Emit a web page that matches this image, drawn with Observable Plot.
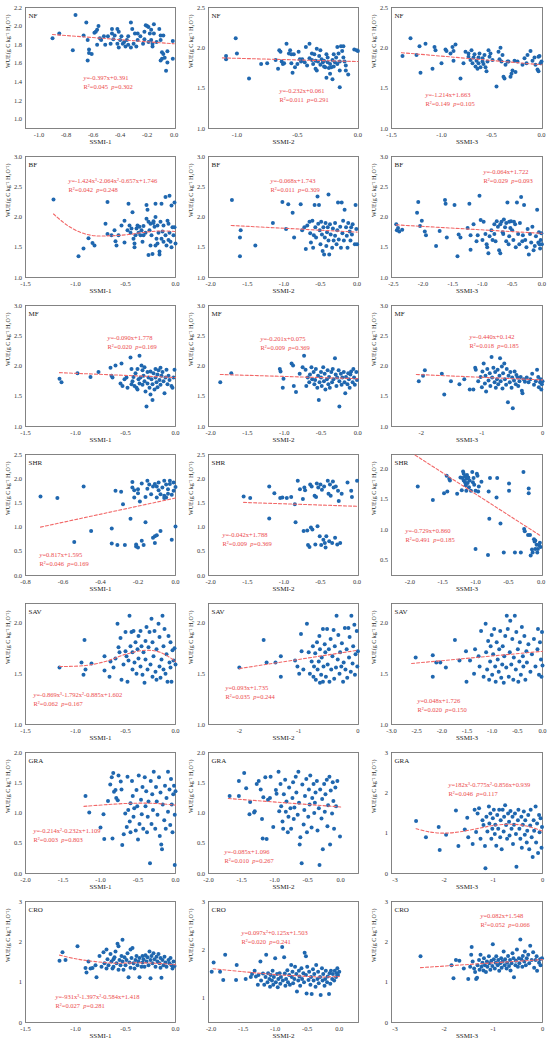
<!DOCTYPE html>
<html><head><meta charset="utf-8">
<script src="https://cdn.jsdelivr.net/npm/d3@7"></script>
<script src="https://cdn.jsdelivr.net/npm/@observablehq/plot@0.6"></script>
<style>
html,body{margin:0;padding:0;background:#fff;overflow:hidden}
#grid{display:grid;grid-template-columns:183px 183px 184px;grid-auto-rows:149px;width:550px}
#grid svg{display:block}
</style></head><body><div id="grid"></div>
<script>
const classes = ["NF","BF","MF","SHR","SAV","GRA","CRO"];
const indices = ["SSMI-1","SSMI-2","SSMI-3"];
const yTitle = "WUE(g C kg\u207B\u00B9 H\u2082O\u207B\u00B9)";
const equations = [
 ["y=-0.397x+0.391","R²=0.045  p=0.302"],
 ["y=-0.232x+0.061","R²=0.011  p=0.291"],
 ["y=-1.214x+1.663","R²=0.149  p=0.105"],
 ["y=-1.424x³-2.064x²-0.657x+1.746","R²=0.042  p=0.248"],
 ["y=-0.068x+1.743","R²=0.011  p=0.309"],
 ["y=-0.064x+1.722","R²=0.029  p=0.093"],
 ["y=-0.090x+1.778","R²=0.020  p=0.169"],
 ["y=-0.201x+0.075","R²=0.009  p=0.369"],
 ["y=-0.440x+0.142","R²=0.018  p=0.185"],
 ["y=0.817x+1.595","R²=0.046  p=0.169"],
 ["y=-0.042x+1.788","R²=0.009  p=0.369"],
 ["y=-0.729x+0.860","R²=0.491  p=0.185"],
 ["y=-0.869x³-1.792x²-0.885x+1.602","R²=0.062  p=0.167"],
 ["y=0.093x+1.735","R²=0.035  p=0.244"],
 ["y=0.048x+1.726","R²=0.020  p=0.150"],
 ["y=-0.214x²-0.232x+1.109","R²=0.003  p=0.803"],
 ["y=-0.085x+1.096","R²=0.010  p=0.267"],
 ["y=182x³-0.775x²-0.856x+0.939","R²=0.046  p=0.117"],
 ["y=-931x³-1.397x²-0.584x+1.418","R²=0.027  p=0.281"],
 ["y=0.097x²+0.125x+1.503","R²=0.020  p=0.241"],
 ["y=0.082x+1.548","R²=0.052  p=0.066"]
];

// tick values
const tA = [-1.0,-0.8,-0.6,-0.4,-0.2,0];
const tB = [-1.0,-0.5,0];
const tC = [-1.5,-1.0,-0.5,0];
const tD = [-2.0,-1.5,-1.0,-0.5,0];
const tE = [-2.5,-2.0,-1.5,-1.0,-0.5,0];
const tF = [-2,-1,0];
const tG = [-0.8,-0.6,-0.4,-0.2,0];
const tH = [-3.0,-2.5,-2.0,-1.5,-1.0,-0.5,0];
const tI = [-3,-2,-1,0];
const yA = [1.0,1.2,1.4,1.6,1.8,2.0,2.2];
const yB = [1.0,1.5,2.0,2.5];
const yC = [1.0,1.5,2.0,2.5,3.0];
const yD = [0,0.5,1.0,1.5,2.0,2.5];
const yE = [0.5,1.0,1.5,2.0];
const yF = [1.0,1.5,2.0];
const yG = [0,0.5,1.0,1.5,2.0];
const yH = [0,1,2,3];
const yI = [1,2,3];

// scatter values [SSMI, WUE]
const nf1 = [[-0.90,1.87],[-0.85,1.92],[-0.73,2.12],[-0.75,1.74],[-0.67,1.90],[-0.65,2.04],[-0.64,1.85],[-0.63,1.75],[-0.63,1.71],[-0.64,1.63],[-0.61,1.70],[-0.59,1.93],[-0.58,1.94],[-0.57,1.96],[-0.56,2.00],[-0.57,1.80],[-0.55,1.87],[-0.54,1.85],[-0.52,1.89],[-0.51,1.80],[-0.49,1.89],[-0.47,1.81],[-0.46,1.97],[-0.46,1.92],[-0.45,1.86],[-0.44,1.90],[-0.42,1.97],[-0.41,1.94],[-0.42,1.81],[-0.41,1.77],[-0.40,1.85],[-0.39,1.89],[-0.38,1.81],[-0.37,1.83],[-0.36,1.78],[-0.35,1.85],[-0.34,1.80],[-0.34,1.89],[-0.32,2.04],[-0.32,1.77],[-0.31,1.97],[-0.30,1.81],[-0.29,1.92],[-0.28,1.78],[-0.27,1.85],[-0.27,1.92],[-0.25,1.89],[-0.23,1.81],[-0.22,1.94],[-0.22,1.86],[-0.21,2.01],[-0.20,2.00],[-0.19,1.83],[-0.19,1.99],[-0.18,1.92],[-0.17,1.85],[-0.17,1.96],[-0.16,1.78],[-0.16,1.81],[-0.15,2.02],[-0.15,1.92],[-0.13,1.83],[-0.11,1.97],[-0.10,1.85],[-0.10,1.90],[-0.09,1.72],[-0.08,1.70],[-0.08,1.90],[-0.09,1.65],[-0.07,1.66],[-0.06,1.52],[-0.05,1.73],[-0.05,1.61],[-0.01,1.65],[-0.01,1.84],[-0.10,1.63]];
const nf2 = [[-1.09,1.90],[-1.09,1.86],[-1.01,2.12],[-1.00,1.93],[-0.90,1.62],[-0.80,1.80],[-0.75,1.81],[-0.68,1.85],[-0.66,1.74],[-0.65,1.97],[-0.64,1.95],[-0.63,1.83],[-0.62,1.80],[-0.61,1.81],[-0.59,2.05],[-0.57,1.93],[-0.56,1.97],[-0.55,1.92],[-0.54,1.69],[-0.55,1.81],[-0.52,1.76],[-0.53,1.92],[-0.50,1.80],[-0.49,1.95],[-0.48,1.86],[-0.47,1.83],[-0.46,1.86],[-0.44,1.82],[-0.43,2.01],[-0.42,1.78],[-0.40,2.05],[-0.40,1.87],[-0.38,1.93],[-0.38,1.85],[-0.37,1.80],[-0.36,1.92],[-0.35,1.84],[-0.34,1.99],[-0.34,1.72],[-0.33,1.83],[-0.32,1.90],[-0.31,1.97],[-0.31,1.79],[-0.30,1.86],[-0.29,1.82],[-0.28,1.77],[-0.28,1.84],[-0.27,1.76],[-0.26,1.63],[-0.26,1.92],[-0.25,1.82],[-0.25,1.88],[-0.24,1.75],[-0.23,1.68],[-0.23,1.80],[-0.22,1.76],[-0.21,1.85],[-0.21,1.61],[-0.20,1.92],[-0.20,1.77],[-0.19,1.82],[-0.18,1.88],[-0.17,1.80],[-0.17,2.01],[-0.16,1.93],[-0.15,1.51],[-0.15,1.72],[-0.15,1.83],[-0.14,2.02],[-0.13,1.96],[-0.12,2.02],[-0.12,1.88],[-0.11,1.83],[-0.10,1.72],[-0.08,1.67],[-0.03,1.98],[-0.01,1.97],[0.00,1.96],[-0.10,1.78],[-0.35,1.74]];
const nf3 = [[-1.39,1.90],[-1.31,2.12],[-1.25,1.91],[-1.22,2.02],[-1.21,1.69],[-1.16,2.05],[-1.09,1.74],[-1.07,2.01],[-1.06,1.97],[-1.00,1.81],[-0.96,1.98],[-0.95,1.96],[-0.91,1.93],[-0.89,2.01],[-0.88,1.96],[-0.88,1.84],[-0.86,2.04],[-0.81,1.62],[-0.78,1.81],[-0.76,1.95],[-0.73,1.93],[-0.73,1.89],[-0.71,1.85],[-0.70,1.97],[-0.69,1.81],[-0.68,1.88],[-0.67,1.92],[-0.66,1.77],[-0.65,1.84],[-0.64,1.74],[-0.63,1.88],[-0.63,1.81],[-0.62,1.93],[-0.61,1.76],[-0.59,1.83],[-0.59,1.87],[-0.58,1.80],[-0.57,1.91],[-0.56,1.76],[-0.55,1.71],[-0.54,1.83],[-0.53,1.97],[-0.52,1.89],[-0.51,1.93],[-0.49,1.85],[-0.45,1.52],[-0.43,1.95],[-0.42,1.86],[-0.41,2.00],[-0.40,1.83],[-0.39,1.91],[-0.38,1.64],[-0.37,1.62],[-0.36,1.79],[-0.34,1.83],[-0.33,1.83],[-0.31,1.64],[-0.30,1.68],[-0.29,1.72],[-0.27,1.84],[-0.26,1.70],[-0.24,1.83],[-0.19,1.79],[-0.17,1.87],[-0.15,1.81],[-0.14,1.91],[-0.11,1.96],[-0.09,1.84],[-0.07,1.88],[-0.06,1.79],[-0.04,1.73],[-0.03,1.71],[-0.03,1.89],[-0.02,1.90],[0.00,1.83],[-0.01,1.81]];
const bf1 = [[-1.22,2.29],[-0.97,1.35],[-0.92,1.48],[-0.87,1.65],[-0.83,1.57],[-0.81,1.53],[-0.70,1.89],[-0.68,2.25],[-0.68,1.72],[-0.64,1.70],[-0.61,1.78],[-0.60,1.60],[-0.59,1.53],[-0.57,1.70],[-0.54,1.86],[-0.51,1.94],[-0.51,1.58],[-0.48,1.78],[-0.47,2.22],[-0.46,1.86],[-0.45,1.74],[-0.44,1.81],[-0.43,2.08],[-0.42,1.64],[-0.41,1.56],[-0.41,1.50],[-0.40,1.70],[-0.39,1.81],[-0.38,1.86],[-0.37,1.74],[-0.36,1.84],[-0.35,1.70],[-0.34,1.78],[-0.33,1.59],[-0.32,1.85],[-0.30,1.74],[-0.29,1.97],[-0.29,2.20],[-0.28,2.12],[-0.27,1.37],[-0.26,1.78],[-0.25,1.53],[-0.25,1.89],[-0.24,1.70],[-0.23,1.39],[-0.22,1.93],[-0.21,1.84],[-0.20,1.53],[-0.20,2.22],[-0.19,1.64],[-0.18,1.86],[-0.18,1.56],[-0.17,1.74],[-0.16,1.43],[-0.16,1.38],[-0.15,1.92],[-0.14,1.64],[-0.14,2.22],[-0.13,1.76],[-0.12,1.59],[-0.12,1.86],[-0.10,2.33],[-0.10,1.70],[-0.09,1.53],[-0.08,1.94],[-0.07,1.62],[-0.06,2.35],[-0.06,1.74],[-0.05,1.59],[-0.04,1.50],[-0.04,2.19],[-0.03,1.83],[-0.02,1.70],[-0.01,2.24],[-0.01,1.83],[0.00,1.56],[-0.27,1.92],[-0.32,1.70],[-0.20,2.00],[-0.22,1.90],[-0.07,1.89]];
const bf2 = [[-1.71,2.28],[-1.59,1.78],[-1.60,1.66],[-1.60,1.35],[-1.39,1.53],[-1.15,1.90],[-1.02,2.25],[-0.97,1.80],[-0.94,2.21],[-0.88,2.07],[-0.86,1.66],[-0.77,2.21],[-0.75,1.78],[-0.72,1.83],[-0.70,1.47],[-0.68,1.86],[-0.65,1.92],[-0.64,1.73],[-0.63,1.58],[-0.61,1.94],[-0.60,1.49],[-0.59,1.70],[-0.58,2.20],[-0.57,1.83],[-0.56,1.66],[-0.54,2.34],[-0.53,1.89],[-0.52,2.20],[-0.51,1.78],[-0.50,1.55],[-0.49,1.92],[-0.48,1.71],[-0.47,1.44],[-0.46,1.83],[-0.45,1.38],[-0.44,1.66],[-0.43,1.90],[-0.42,1.52],[-0.41,1.75],[-0.40,1.83],[-0.39,1.61],[-0.39,2.37],[-0.38,1.38],[-0.37,1.88],[-0.36,1.71],[-0.34,1.49],[-0.33,1.81],[-0.32,1.61],[-0.30,1.90],[-0.30,1.69],[-0.28,1.55],[-0.27,1.78],[-0.26,2.24],[-0.25,1.63],[-0.23,1.84],[-0.22,1.49],[-0.21,2.24],[-0.20,1.73],[-0.19,1.94],[-0.18,1.61],[-0.17,2.12],[-0.15,1.83],[-0.14,1.69],[-0.13,1.49],[-0.12,1.90],[-0.10,1.76],[-0.09,1.61],[-0.08,1.83],[-0.07,1.71],[-0.06,1.88],[-0.03,1.55],[-0.02,2.20],[-0.01,1.80],[0.00,1.55]];
const bf3 = [[-2.45,1.88],[-2.44,1.78],[-2.42,1.82],[-2.40,1.76],[-2.35,1.79],[-2.10,2.07],[-2.08,2.25],[-2.05,1.85],[-2.02,1.94],[-1.97,1.76],[-1.95,1.70],[-1.78,1.52],[-1.72,1.77],[-1.63,2.28],[-1.62,2.22],[-1.60,1.66],[-1.47,2.20],[-1.42,1.35],[-1.40,1.71],[-1.37,1.66],[-1.25,1.82],[-1.22,2.22],[-1.20,1.70],[-1.20,1.46],[-1.15,1.88],[-1.10,1.60],[-1.08,1.70],[-1.05,2.35],[-1.03,1.95],[-1.00,1.62],[-0.98,1.92],[-0.95,1.72],[-0.93,1.55],[-0.92,1.50],[-0.90,1.40],[-0.88,1.68],[-0.85,1.78],[-0.83,1.62],[-0.80,1.72],[-0.78,1.60],[-0.76,1.93],[-0.74,1.84],[-0.72,1.45],[-0.70,1.40],[-0.68,1.92],[-0.66,1.75],[-0.64,1.96],[-0.62,1.83],[-0.60,1.90],[-0.58,2.24],[-0.56,1.55],[-0.55,1.68],[-0.53,1.82],[-0.52,1.93],[-0.50,1.78],[-0.48,1.62],[-0.47,1.92],[-0.45,1.88],[-0.44,1.50],[-0.42,2.24],[-0.40,1.72],[-0.38,1.55],[-0.37,1.90],[-0.35,2.33],[-0.33,1.60],[-0.32,1.70],[-0.30,2.20],[-0.28,1.62],[-0.26,1.50],[-0.24,1.80],[-0.22,1.38],[-0.20,1.72],[-0.18,1.58],[-0.16,1.84],[-0.14,1.45],[-0.12,1.52],[-0.10,1.68],[-0.08,2.12],[-0.06,1.58],[-0.05,1.75],[-0.04,1.55],[-0.03,1.48],[-0.02,1.62],[-0.01,1.73],[0.00,1.55],[-0.65,1.72],[-0.60,1.60],[-0.70,1.88],[-0.80,1.88],[-0.55,1.92]];
const mf1 = [[-1.16,1.79],[-1.14,1.73],[-0.98,1.88],[-0.85,1.82],[-0.77,1.90],[-0.65,1.97],[-0.64,1.84],[-0.63,1.81],[-0.60,2.01],[-0.55,1.71],[-0.54,2.04],[-0.53,1.67],[-0.51,1.78],[-0.49,1.81],[-0.48,1.64],[-0.45,2.14],[-0.44,1.95],[-0.44,1.70],[-0.43,1.75],[-0.42,1.82],[-0.41,1.67],[-0.40,1.88],[-0.39,1.64],[-0.38,1.61],[-0.38,1.95],[-0.37,1.78],[-0.36,2.17],[-0.36,1.71],[-0.35,1.81],[-0.34,2.01],[-0.33,1.93],[-0.33,1.69],[-0.32,1.84],[-0.31,1.98],[-0.31,1.75],[-0.30,1.58],[-0.29,1.33],[-0.28,1.90],[-0.28,1.71],[-0.27,1.81],[-0.26,1.64],[-0.25,1.91],[-0.25,1.53],[-0.24,1.78],[-0.23,1.44],[-0.23,1.70],[-0.22,1.88],[-0.21,1.61],[-0.20,1.81],[-0.20,1.95],[-0.19,1.73],[-0.18,1.86],[-0.18,1.65],[-0.17,1.93],[-0.16,1.77],[-0.15,1.97],[-0.15,1.69],[-0.14,1.84],[-0.13,1.90],[-0.12,1.75],[-0.11,1.55],[-0.10,1.81],[-0.09,1.94],[-0.08,1.70],[-0.07,1.84],[-0.06,1.77],[-0.04,1.67],[-0.03,1.64],[-0.02,1.81],[-0.01,1.94]];
const mf2 = [[-1.87,1.73],[-1.72,1.88],[-1.06,1.95],[-1.05,1.91],[-1.02,1.64],[-1.01,1.79],[-0.90,2.04],[-0.88,2.01],[-0.87,1.67],[-0.84,1.57],[-0.79,1.87],[-0.75,1.98],[-0.73,2.17],[-0.71,1.94],[-0.70,1.67],[-0.68,1.81],[-0.66,1.73],[-0.65,1.86],[-0.63,1.98],[-0.62,1.78],[-0.60,1.90],[-0.59,1.70],[-0.58,1.77],[-0.57,1.95],[-0.55,1.64],[-0.54,1.84],[-0.53,1.44],[-0.52,1.73],[-0.50,1.90],[-0.50,1.81],[-0.49,1.67],[-0.47,1.98],[-0.46,1.75],[-0.45,1.87],[-0.44,1.61],[-0.42,1.78],[-0.41,1.93],[-0.40,1.70],[-0.39,1.82],[-0.38,1.64],[-0.36,1.90],[-0.35,1.73],[-0.34,1.95],[-0.33,1.78],[-0.31,2.13],[-0.30,1.86],[-0.29,1.67],[-0.28,1.81],[-0.26,1.93],[-0.25,1.33],[-0.25,1.75],[-0.23,1.87],[-0.22,1.69],[-0.21,1.81],[-0.19,1.90],[-0.18,1.73],[-0.17,1.55],[-0.16,1.82],[-0.14,1.70],[-0.13,1.88],[-0.12,1.78],[-0.11,1.64],[-0.10,1.86],[-0.09,1.91],[-0.07,1.73],[-0.06,1.95],[-0.05,1.81],[-0.04,1.69],[-0.02,1.90],[-0.01,1.77]];
const mf3 = [[-2.04,1.75],[-1.97,1.84],[-1.94,1.93],[-1.66,1.87],[-1.62,1.53],[-1.51,1.75],[-1.37,1.70],[-1.29,1.78],[-1.20,1.61],[-1.14,1.61],[-1.11,1.97],[-1.10,1.94],[-1.06,1.75],[-1.02,1.82],[-1.00,1.65],[-0.99,1.91],[-0.97,2.04],[-0.95,1.71],[-0.94,1.84],[-0.93,1.58],[-0.91,1.95],[-0.89,1.76],[-0.87,1.88],[-0.86,1.67],[-0.84,2.15],[-0.83,1.81],[-0.81,1.97],[-0.79,1.73],[-0.78,1.90],[-0.77,1.64],[-0.75,1.78],[-0.74,1.94],[-0.73,1.70],[-0.71,1.84],[-0.70,2.13],[-0.69,1.75],[-0.67,1.99],[-0.66,1.63],[-0.65,1.88],[-0.63,2.04],[-0.62,1.78],[-0.60,1.69],[-0.59,1.95],[-0.57,1.40],[-0.56,1.84],[-0.54,1.73],[-0.53,1.90],[-0.51,1.64],[-0.50,1.81],[-0.49,1.30],[-0.47,1.76],[-0.46,1.91],[-0.44,1.70],[-0.43,1.85],[-0.41,1.81],[-0.40,1.67],[-0.38,1.75],[-0.36,1.82],[-0.34,1.59],[-0.33,1.55],[-0.31,1.78],[-0.29,1.74],[-0.26,1.81],[-0.23,1.73],[-0.20,1.78],[-0.17,1.87],[-0.14,1.69],[-0.11,1.75],[-0.09,1.94],[-0.07,1.82],[-0.06,1.65],[-0.04,1.73],[-0.03,1.78],[-0.02,1.61],[-0.01,1.70],[0.00,1.75]];
const shr1 = [[-0.72,1.63],[-0.63,1.60],[-0.54,0.69],[-0.49,1.84],[-0.45,0.92],[-0.34,0.97],[-0.34,0.66],[-0.32,1.75],[-0.31,0.63],[-0.29,1.73],[-0.28,1.47],[-0.27,0.63],[-0.24,1.17],[-0.23,1.93],[-0.23,1.82],[-0.22,1.76],[-0.22,1.61],[-0.21,0.60],[-0.21,0.64],[-0.20,0.58],[-0.20,1.78],[-0.20,1.70],[-0.19,1.53],[-0.18,0.72],[-0.18,1.90],[-0.17,0.63],[-0.16,1.62],[-0.16,1.10],[-0.15,1.79],[-0.15,1.96],[-0.14,1.88],[-0.13,1.68],[-0.12,1.84],[-0.12,0.78],[-0.11,0.81],[-0.11,0.67],[-0.11,1.89],[-0.10,1.61],[-0.10,1.84],[-0.10,0.83],[-0.09,1.92],[-0.09,1.76],[-0.08,0.92],[-0.08,1.68],[-0.07,1.82],[-0.06,1.60],[-0.06,1.96],[-0.06,1.65],[-0.05,1.61],[-0.05,1.88],[-0.04,1.78],[-0.04,1.69],[-0.03,1.96],[-0.03,1.89],[-0.02,1.67],[-0.02,0.74],[-0.01,1.92],[-0.01,1.75],[0.00,1.01],[0.00,1.83]];
const shr2 = [[-1.55,1.63],[-1.46,1.60],[-1.20,1.84],[-1.20,1.18],[-1.13,1.70],[-1.05,1.60],[-1.02,1.61],[-0.96,1.60],[-0.90,1.62],[-0.85,1.47],[-0.84,1.10],[-0.81,1.96],[-0.78,1.78],[-0.74,1.58],[-0.73,0.92],[-0.72,1.82],[-0.71,1.76],[-0.68,0.93],[-0.67,0.63],[-0.65,0.59],[-0.64,1.88],[-0.63,0.99],[-0.62,1.84],[-0.61,0.95],[-0.58,1.65],[-0.57,0.64],[-0.56,1.62],[-0.55,1.90],[-0.54,1.02],[-0.53,1.82],[-0.51,0.81],[-0.50,1.88],[-0.49,0.63],[-0.48,1.77],[-0.46,0.74],[-0.45,1.84],[-0.44,0.67],[-0.43,0.58],[-0.42,0.81],[-0.40,1.96],[-0.39,1.69],[-0.38,0.71],[-0.37,1.88],[-0.36,1.65],[-0.34,0.67],[-0.33,1.94],[-0.32,1.82],[-0.30,0.78],[-0.29,1.84],[-0.27,0.64],[-0.26,1.75],[-0.25,1.54],[-0.23,0.67],[-0.21,1.69],[-0.13,1.92],[-0.08,1.75],[-0.07,1.62],[0.00,1.96]];
const shr3 = [[-1.88,1.71],[-1.65,1.49],[-1.48,1.60],[-1.44,1.89],[-1.43,1.63],[-1.40,1.84],[-1.39,1.81],[-1.28,1.59],[-1.23,1.86],[-1.21,1.65],[-1.20,1.85],[-1.19,1.96],[-1.18,1.92],[-1.18,1.81],[-1.16,1.88],[-1.16,1.78],[-1.15,1.73],[-1.14,1.64],[-1.14,1.84],[-1.13,1.90],[-1.12,1.77],[-1.11,1.86],[-1.10,1.70],[-1.09,1.81],[-1.07,1.64],[-1.05,1.95],[-1.04,1.78],[-1.03,1.85],[-1.02,1.74],[-1.00,1.64],[-0.98,1.92],[-0.97,1.89],[-0.96,1.63],[-0.91,1.79],[-0.95,1.71],[-1.00,0.68],[-0.78,1.85],[-0.80,1.63],[-0.79,1.18],[-0.81,0.58],[-0.68,1.53],[-0.67,1.85],[-0.62,1.10],[-0.57,0.62],[-0.49,1.76],[-0.49,1.64],[-0.40,0.62],[-0.31,0.62],[-0.27,1.95],[-0.26,1.01],[-0.25,0.97],[-0.20,0.91],[-0.19,1.68],[-0.19,1.60],[-0.17,0.91],[-0.16,0.57],[-0.14,0.67],[-0.13,0.62],[-0.11,0.84],[-0.10,0.80],[-0.09,0.68],[-0.07,0.75],[-0.06,0.62],[-0.05,0.68],[-0.03,0.74],[-0.02,0.78],[-0.01,0.71],[-0.09,0.82]];
const sav1 = [[-1.16,1.56],[-0.94,1.61],[-0.92,1.49],[-0.91,1.83],[-0.90,1.54],[-0.84,1.60],[-0.71,1.53],[-0.71,1.67],[-0.66,1.47],[-0.65,1.62],[-0.62,1.56],[-0.60,1.65],[-0.58,1.99],[-0.57,1.76],[-0.56,1.71],[-0.55,1.85],[-0.54,1.44],[-0.52,1.59],[-0.50,1.72],[-0.50,1.91],[-0.49,1.67],[-0.48,1.42],[-0.47,1.63],[-0.46,2.07],[-0.45,1.77],[-0.44,1.91],[-0.43,1.54],[-0.43,1.71],[-0.42,1.92],[-0.41,1.61],[-0.40,1.81],[-0.39,1.50],[-0.38,1.74],[-0.37,1.87],[-0.37,1.65],[-0.35,1.92],[-0.35,1.57],[-0.34,1.77],[-0.33,1.49],[-0.32,1.71],[-0.31,1.41],[-0.30,1.82],[-0.30,1.64],[-0.29,1.96],[-0.28,1.54],[-0.27,1.76],[-0.26,1.91],[-0.25,1.59],[-0.24,2.04],[-0.23,1.47],[-0.23,1.81],[-0.22,1.67],[-0.21,1.92],[-0.20,1.52],[-0.19,1.44],[-0.19,1.74],[-0.17,1.99],[-0.16,1.57],[-0.16,1.86],[-0.15,1.46],[-0.14,1.64],[-0.13,2.07],[-0.12,1.54],[-0.12,1.77],[-0.11,1.94],[-0.10,1.50],[-0.09,1.69],[-0.08,1.42],[-0.07,1.87],[-0.06,1.61],[-0.05,1.81],[-0.05,1.56],[-0.04,1.42],[-0.03,1.73],[-0.02,1.63],[-0.01,1.75],[0.00,1.59]];
const sav2 = [[-2.00,1.56],[-1.59,1.83],[-1.54,1.61],[-1.39,1.61],[-1.30,1.67],[-1.30,1.47],[-1.06,1.63],[-1.02,1.57],[-0.99,1.50],[-0.96,1.89],[-0.95,1.72],[-0.92,1.54],[-0.86,1.99],[-0.83,1.71],[-0.81,1.50],[-0.78,1.62],[-0.76,1.77],[-0.75,1.47],[-0.74,1.57],[-0.72,1.70],[-0.71,1.44],[-0.69,1.81],[-0.68,1.54],[-0.66,1.62],[-0.65,1.87],[-0.64,1.41],[-0.64,1.74],[-0.62,1.49],[-0.61,1.66],[-0.59,1.94],[-0.59,1.42],[-0.58,1.57],[-0.56,1.79],[-0.55,1.71],[-0.54,1.47],[-0.52,1.94],[-0.51,1.59],[-0.49,1.74],[-0.48,1.42],[-0.46,1.84],[-0.45,1.54],[-0.43,1.67],[-0.41,1.93],[-0.40,1.45],[-0.39,1.77],[-0.37,1.56],[-0.36,2.07],[-0.34,1.64],[-0.33,1.88],[-0.31,1.50],[-0.30,1.71],[-0.28,1.57],[-0.27,1.80],[-0.25,1.42],[-0.24,1.61],[-0.22,1.95],[-0.21,1.54],[-0.19,1.74],[-0.18,1.46],[-0.16,1.95],[-0.15,1.66],[-0.14,1.86],[-0.12,1.52],[-0.11,2.07],[-0.09,1.60],[-0.08,1.77],[-0.06,1.98],[-0.05,1.49],[-0.04,1.69],[-0.02,1.92],[-0.01,1.57],[0.00,1.72]];
const sav3 = [[-2.52,1.66],[-2.18,1.68],[-2.18,1.47],[-2.11,1.61],[-2.03,1.61],[-1.92,1.56],[-1.74,1.83],[-1.65,1.63],[-1.52,1.72],[-1.51,1.42],[-1.44,1.63],[-1.36,1.50],[-1.34,1.74],[-1.27,1.67],[-1.25,1.57],[-1.22,1.92],[-1.17,1.47],[-1.13,1.99],[-1.12,1.71],[-1.10,1.54],[-1.08,1.82],[-1.06,1.44],[-1.04,1.62],[-1.03,1.77],[-1.01,1.88],[-1.00,1.49],[-0.98,1.69],[-0.96,1.94],[-0.94,1.57],[-0.93,1.42],[-0.91,1.81],[-0.89,1.64],[-0.87,1.52],[-0.86,1.74],[-0.84,1.92],[-0.82,1.46],[-0.80,1.59],[-0.79,1.77],[-0.77,1.41],[-0.76,1.67],[-0.74,1.87],[-0.72,1.56],[-0.71,2.07],[-0.69,1.94],[-0.67,1.47],[-0.65,1.71],[-0.64,2.02],[-0.62,1.59],[-0.60,1.84],[-0.58,1.44],[-0.57,1.66],[-0.55,2.07],[-0.53,1.54],[-0.52,1.91],[-0.49,1.74],[-0.48,1.42],[-0.46,1.62],[-0.45,1.81],[-0.43,1.49],[-0.41,1.96],[-0.39,1.67],[-0.38,1.57],[-0.36,1.87],[-0.34,1.44],[-0.32,1.72],[-0.31,1.61],[-0.28,1.79],[-0.24,1.52],[-0.21,1.69],[-0.17,1.84],[-0.14,1.57],[-0.10,1.74],[-0.09,1.94],[-0.07,1.49],[-0.05,1.81],[-0.03,1.64],[-0.02,1.47],[-0.01,1.91],[0.00,1.58]];
const gra1 = [[-1.20,1.28],[-1.15,1.01],[-1.00,0.76],[-0.96,0.98],[-0.95,0.57],[-0.90,1.20],[-0.87,1.47],[-0.85,1.59],[-0.84,0.58],[-0.83,1.66],[-0.82,1.35],[-0.80,1.38],[-0.79,1.25],[-0.77,1.21],[-0.76,1.62],[-0.73,1.52],[-0.72,1.39],[-0.71,0.47],[-0.69,0.65],[-0.67,0.99],[-0.65,0.77],[-0.64,1.60],[-0.63,1.05],[-0.61,0.86],[-0.60,1.16],[-0.60,0.68],[-0.58,1.53],[-0.57,1.28],[-0.56,0.94],[-0.55,1.08],[-0.53,0.71],[-0.52,1.38],[-0.51,1.11],[-0.50,0.56],[-0.49,1.62],[-0.48,0.82],[-0.46,1.22],[-0.45,0.98],[-0.44,1.43],[-0.43,0.74],[-0.41,1.59],[-0.40,1.11],[-0.39,1.36],[-0.38,0.68],[-0.37,0.94],[-0.36,1.19],[-0.34,0.17],[-0.33,1.53],[-0.32,0.82],[-0.31,1.31],[-0.30,1.05],[-0.29,1.68],[-0.27,0.74],[-0.26,1.43],[-0.25,1.19],[-0.24,0.97],[-0.22,1.59],[-0.21,0.62],[-0.20,1.34],[-0.19,0.48],[-0.18,0.40],[-0.17,1.14],[-0.15,0.88],[-0.14,1.45],[-0.13,0.74],[-0.12,1.25],[-0.10,1.68],[-0.10,1.02],[-0.08,1.39],[-0.07,0.80],[-0.06,1.56],[-0.05,1.14],[-0.04,0.68],[-0.03,1.31],[-0.02,1.45],[-0.01,0.97],[-0.01,0.14],[0.00,1.36]];
const gra2 = [[-1.68,1.28],[-1.54,1.53],[-1.54,1.28],[-1.46,1.66],[-1.43,1.41],[-1.38,0.98],[-1.37,1.18],[-1.31,1.01],[-1.30,1.03],[-1.27,1.48],[-1.24,1.53],[-1.21,1.39],[-1.19,0.90],[-1.18,0.58],[-1.17,1.26],[-1.14,1.59],[-1.12,0.57],[-1.10,1.22],[-1.07,1.25],[-1.06,1.60],[-1.02,0.77],[-0.98,1.38],[-0.97,1.32],[-0.94,1.68],[-0.93,1.03],[-0.91,1.48],[-0.90,1.11],[-0.88,0.86],[-0.87,0.74],[-0.86,1.31],[-0.84,1.55],[-0.83,1.02],[-0.82,1.19],[-0.80,0.68],[-0.79,0.94],[-0.78,1.42],[-0.76,1.08],[-0.75,0.74],[-0.73,1.25],[-0.72,1.51],[-0.71,0.90],[-0.70,1.09],[-0.68,1.60],[-0.67,1.34],[-0.65,0.97],[-0.64,1.68],[-0.63,1.17],[-0.62,0.48],[-0.61,0.60],[-0.59,0.17],[-0.58,1.47],[-0.56,0.81],[-0.55,1.05],[-0.54,1.28],[-0.52,1.56],[-0.51,0.68],[-0.49,0.94],[-0.48,1.39],[-0.47,1.14],[-0.46,1.62],[-0.44,0.76],[-0.43,1.25],[-0.41,1.48],[-0.40,1.00],[-0.39,1.17],[-0.38,1.34],[-0.36,1.53],[-0.35,0.71],[-0.33,1.08],[-0.32,0.14],[-0.31,1.39],[-0.29,0.91],[-0.28,1.23],[-0.27,0.40],[-0.25,1.48],[-0.24,1.02],[-0.23,1.31],[-0.21,1.55],[-0.20,0.78],[-0.19,1.13],[-0.17,1.60],[-0.16,0.48],[-0.15,1.37],[-0.13,0.99],[-0.12,1.51],[-0.11,1.20],[-0.10,0.74],[-0.08,1.42],[-0.07,1.11],[-0.05,1.53],[-0.01,0.61]];
const gra3 = [[-2.57,1.30],[-2.37,0.90],[-2.11,1.15],[-2.09,0.58],[-1.96,0.96],[-1.76,1.56],[-1.71,0.68],[-1.58,1.09],[-1.53,1.38],[-1.51,0.90],[-1.42,0.73],[-1.38,1.58],[-1.35,1.03],[-1.32,1.49],[-1.29,1.62],[-1.26,0.86],[-1.22,1.32],[-1.20,1.20],[-1.17,0.68],[-1.16,0.13],[-1.14,1.41],[-1.12,1.04],[-1.09,1.66],[-1.08,1.24],[-1.06,1.49],[-1.04,0.86],[-1.02,1.11],[-1.01,1.37],[-0.99,1.58],[-0.97,0.98],[-0.96,1.21],[-0.94,0.69],[-0.92,1.45],[-0.90,1.11],[-0.88,1.58],[-0.86,0.90],[-0.85,1.32],[-0.83,0.60],[-0.81,1.58],[-0.79,1.04],[-0.78,1.41],[-0.76,1.69],[-0.74,1.20],[-0.72,0.86],[-0.70,1.49],[-0.68,1.28],[-0.67,0.94],[-0.65,1.55],[-0.63,1.11],[-0.61,1.41],[-0.60,0.73],[-0.58,1.21],[-0.56,1.49],[-0.54,0.98],[-0.53,0.17],[-0.50,1.32],[-0.49,1.58],[-0.47,1.11],[-0.45,0.86],[-0.43,1.41],[-0.42,0.64],[-0.40,1.21],[-0.38,1.54],[-0.36,0.96],[-0.35,1.32],[-0.32,0.77],[-0.31,1.06],[-0.29,1.45],[-0.27,0.60],[-0.25,1.19],[-0.24,1.58],[-0.22,0.90],[-0.20,0.41],[-0.18,1.32],[-0.17,1.06],[-0.14,1.66],[-0.13,0.77],[-0.11,1.24],[-0.09,0.51],[-0.07,1.45],[-0.06,1.02],[-0.04,1.37],[-0.02,0.64],[-0.01,1.15]];
const cro1 = [[-1.16,1.53],[-1.13,1.74],[-1.10,1.55],[-0.98,1.89],[-0.90,1.35],[-0.89,1.24],[-0.87,1.51],[-0.85,1.34],[-0.83,1.35],[-0.80,1.42],[-0.79,1.12],[-0.76,1.65],[-0.74,1.38],[-0.72,1.74],[-0.71,1.47],[-0.69,1.34],[-0.69,1.81],[-0.68,1.57],[-0.67,1.42],[-0.65,1.70],[-0.64,1.51],[-0.63,1.34],[-0.62,1.57],[-0.62,1.38],[-0.61,1.62],[-0.60,1.76],[-0.59,1.47],[-0.58,1.95],[-0.57,1.89],[-0.57,1.31],[-0.56,1.55],[-0.55,1.42],[-0.54,1.65],[-0.53,2.05],[-0.53,1.51],[-0.52,1.31],[-0.51,1.62],[-0.50,1.42],[-0.49,1.55],[-0.48,1.72],[-0.47,1.12],[-0.46,1.49],[-0.45,1.81],[-0.45,1.36],[-0.44,1.60],[-0.43,1.85],[-0.42,1.47],[-0.41,1.34],[-0.40,1.55],[-0.39,1.65],[-0.38,1.42],[-0.37,1.51],[-0.36,1.12],[-0.36,1.60],[-0.34,1.38],[-0.33,1.65],[-0.33,1.49],[-0.32,1.57],[-0.31,1.38],[-0.30,1.67],[-0.29,1.51],[-0.28,1.62],[-0.27,1.42],[-0.26,1.76],[-0.25,1.55],[-0.25,1.10],[-0.24,1.65],[-0.23,1.47],[-0.22,1.72],[-0.21,1.57],[-0.20,1.38],[-0.19,1.63],[-0.18,1.51],[-0.17,1.70],[-0.16,1.47],[-0.15,1.60],[-0.15,1.36],[-0.14,1.11],[-0.13,1.55],[-0.12,1.42],[-0.11,1.63],[-0.10,1.49],[-0.09,1.38],[-0.07,1.55],[-0.06,1.47],[-0.05,1.60],[-0.04,1.42],[-0.03,1.34],[-0.02,1.51],[-0.01,1.40]];
const cro2 = [[-1.99,1.55],[-1.96,1.74],[-1.86,1.55],[-1.81,1.38],[-1.78,1.90],[-1.61,1.38],[-1.60,1.69],[-1.46,1.40],[-1.38,1.44],[-1.36,1.50],[-1.32,1.57],[-1.30,1.45],[-1.27,1.28],[-1.26,1.48],[-1.23,1.76],[-1.22,1.37],[-1.19,1.51],[-1.17,1.28],[-1.15,1.44],[-1.14,1.90],[-1.12,1.33],[-1.11,1.52],[-1.09,1.40],[-1.08,1.24],[-1.07,1.48],[-1.05,1.37],[-1.04,1.57],[-1.03,1.28],[-1.02,1.44],[-1.00,1.83],[-0.99,1.33],[-0.97,1.50],[-0.96,1.23],[-0.95,1.40],[-0.93,1.52],[-0.92,1.30],[-0.91,1.44],[-0.89,2.06],[-0.88,1.37],[-0.86,1.85],[-0.85,1.51],[-0.84,1.26],[-0.83,1.40],[-0.81,1.58],[-0.80,1.33],[-0.78,1.48],[-0.77,1.28],[-0.75,1.69],[-0.74,1.44],[-0.73,1.55],[-0.72,1.31],[-0.70,1.40],[-0.69,1.65],[-0.67,1.50],[-0.66,1.14],[-0.64,1.37],[-0.63,1.57],[-0.62,1.45],[-0.61,1.26],[-0.59,1.62],[-0.58,1.40],[-0.56,1.52],[-0.55,1.33],[-0.54,1.94],[-0.52,1.87],[-0.52,1.48],[-0.51,1.10],[-0.50,1.65],[-0.48,1.38],[-0.47,1.55],[-0.45,1.28],[-0.44,1.44],[-0.43,1.09],[-0.41,1.60],[-0.40,1.37],[-0.39,1.50],[-0.37,1.24],[-0.36,1.69],[-0.34,1.40],[-0.33,1.55],[-0.32,1.31],[-0.30,1.44],[-0.29,1.07],[-0.27,1.62],[-0.26,1.37],[-0.25,1.50],[-0.23,1.26],[-0.22,1.40],[-0.21,1.57],[-0.19,1.33],[-0.18,1.45],[-0.16,1.09],[-0.15,1.52],[-0.14,1.30],[-0.13,1.57],[-0.11,1.40],[-0.10,1.50],[-0.08,1.37],[-0.07,1.57],[-0.05,1.44],[-0.04,1.52],[-0.03,1.62],[-0.02,1.48],[0.00,1.55]];
const cro3 = [[-2.48,1.64],[-1.85,1.42],[-1.81,1.10],[-1.76,1.55],[-1.69,1.53],[-1.60,1.34],[-1.51,1.08],[-1.47,1.38],[-1.45,1.68],[-1.44,1.87],[-1.42,1.51],[-1.39,1.34],[-1.37,1.25],[-1.35,1.08],[-1.33,1.11],[-1.32,1.42],[-1.29,1.55],[-1.28,1.31],[-1.26,1.68],[-1.24,1.38],[-1.22,1.48],[-1.20,1.29],[-1.19,1.59],[-1.17,1.42],[-1.15,1.25],[-1.13,1.51],[-1.12,1.38],[-1.09,1.64],[-1.08,1.47],[-1.06,1.31],[-1.04,1.53],[-1.02,1.40],[-1.01,1.94],[-0.99,1.57],[-0.97,1.34],[-0.95,1.48],[-0.94,1.64],[-0.91,1.42],[-0.90,1.55],[-0.88,1.28],[-0.86,1.47],[-0.84,1.59],[-0.83,1.36],[-0.81,1.51],[-0.79,1.76],[-0.77,1.42],[-0.76,1.57],[-0.73,1.34],[-0.72,1.48],[-0.70,1.65],[-0.68,1.40],[-0.66,1.55],[-0.65,1.29],[-0.63,1.47],[-0.61,1.72],[-0.59,1.59],[-0.58,1.12],[-0.55,1.42],[-0.54,1.53],[-0.52,1.81],[-0.50,1.38],[-0.48,1.59],[-0.47,1.47],[-0.45,2.06],[-0.43,1.57],[-0.41,1.38],[-0.40,1.65],[-0.37,1.51],[-0.36,1.76],[-0.34,1.42],[-0.32,1.59],[-0.29,1.68],[-0.27,1.47],[-0.25,1.90],[-0.22,1.55],[-0.19,1.74],[-0.17,1.36],[-0.14,1.55],[-0.12,1.64],[-0.11,1.28],[-0.07,1.48],[-0.05,1.57],[-0.04,1.42],[-0.01,1.59]];

// dashed fitted-curve points
const nf1Fit = [[-0.90,1.91],[0,1.81]];
const nf2Fit = [[-1.12,1.875],[0,1.83]];
const nf3Fit = [[-1.40,1.94],[0,1.79]];
const bf1Fit = [[-1.22,2.05],[-1.08,1.86],[-0.94,1.74],[-0.81,1.69],[-0.64,1.69],[-0.47,1.71],[-0.30,1.75],[-0.15,1.77],[0,1.76]];
const bf2Fit = [[-1.72,1.86],[0,1.75]];
const bf3Fit = [[-2.45,1.87],[0,1.73]];
const mf1Fit = [[-1.16,1.89],[0,1.81]];
const mf2Fit = [[-1.87,1.86],[0,1.79]];
const mf3Fit = [[-2.08,1.86],[0,1.77]];
const shr1Fit = [[-0.72,1.00],[0,1.60]];
const shr2Fit = [[-1.55,1.51],[0,1.43]];
const shr3Fit = [[-1.92,2.23],[0,0.89]];
const sav1Fit = [[-1.16,1.57],[-0.90,1.58],[-0.70,1.62],[-0.50,1.69],[-0.30,1.73],[-0.15,1.71],[0,1.62]];
const sav2Fit = [[-2.0,1.55],[0,1.73]];
const sav3Fit = [[-2.6,1.60],[0,1.72]];
const gra1Fit = [[-1.22,1.11],[-0.90,1.14],[-0.60,1.16],[-0.30,1.16],[0,1.13]];
const gra2Fit = [[-1.70,1.24],[0,1.10]];
const gra3Fit = [[-2.57,1.11],[-2.30,1.03],[-2.00,1.00],[-1.70,1.03],[-1.30,1.12],[-1.00,1.19],[-0.60,1.22],[-0.30,1.17],[0,1.05]];
const cro1Fit = [[-1.16,1.67],[-1.00,1.58],[-0.80,1.51],[-0.60,1.47],[-0.40,1.48],[-0.20,1.47],[0,1.43]];
const cro2Fit = [[-1.97,1.61],[-1.50,1.55],[-1.00,1.49],[-0.60,1.46],[-0.30,1.44],[0,1.45]];
const cro3Fit = [[-2.48,1.36],[0,1.56]];

// panel layout: data, fit, axes, equation placement
const panels = [
 {pts:nf1, fit:nf1Fit, xd:[-1.1,0.01], xt:tA, xf:1, yd:[0.9,2.2], yt:yA, yf:1, ex:58, ey:70},
 {pts:nf2, fit:nf2Fit, xd:[-1.235,0.005], xt:tB, xf:1, yd:[1,2.5], yt:yB, yf:1, ex:71, ey:83},
 {pts:nf3, fit:nf3Fit, xd:[-1.5,0.01], xt:tC, xf:1, yd:[1,2.5], yt:yB, yf:1, ex:34, ey:87},
 {pts:bf1, fit:bf1Fit, xd:[-1.5,0], xt:tC, xf:1, yd:[1,3], yt:yC, yf:1, ex:43, ey:24},
 {pts:bf2, fit:bf2Fit, xd:[-2.03,0.02], xt:tD, xf:1, yd:[1,3], yt:yC, yf:1, ex:62, ey:24},
 {pts:bf3, fit:bf3Fit, xd:[-2.53,0.01], xt:tE, xf:1, yd:[1,3], yt:yC, yf:1, ex:92, ey:15},
 {pts:mf1, fit:mf1Fit, xd:[-1.5,0], xt:tC, xf:1, yd:[1,3], yt:yC, yf:1, ex:82, ey:32},
 {pts:mf2, fit:mf2Fit, xd:[-2.03,0.01], xt:tD, xf:1, yd:[1,3], yt:yC, yf:1, ex:52, ey:33},
 {pts:mf3, fit:mf3Fit, xd:[-2.49,0], xt:tF, xf:0, yd:[1,3], yt:yC, yf:1, ex:78, ey:31},
 {pts:shr1, fit:shr1Fit, xd:[-0.8,0], xt:tG, xf:1, yd:[0,2.5], yt:yD, yf:1, ex:14, ey:100},
 {pts:shr2, fit:shr2Fit, xd:[-2.03,0.02], xt:tD, xf:1, yd:[0,2.5], yt:yD, yf:1, ex:14, ey:80},
 {pts:shr3, fit:shr3Fit, xd:[-2.28,0.02], xt:tD, xf:1, yd:[0.24,2.24], yt:yE, yf:1, ex:14, ey:76},
 {pts:sav1, fit:sav1Fit, xd:[-1.5,0], xt:tC, xf:1, yd:[1,2.19], yt:yF, yf:1, ex:8, ey:91},
 {pts:sav2, fit:sav2Fit, xd:[-2.52,0.01], xt:tF, xf:0, yd:[1,2.19], yt:yF, yf:1, ex:17, ey:84},
 {pts:sav3, fit:sav3Fit, xd:[-3,0], xt:tH, xf:1, yd:[1,2.19], yt:yF, yf:1, ex:26, ey:97},
 {pts:gra1, fit:gra1Fit, xd:[-2,0], xt:tD, xf:1, yd:[0,2], yt:yG, yf:1, ex:8, ey:78},
 {pts:gra2, fit:gra2Fit, xd:[-2,0.27], xt:tD, xf:1, yd:[0,2], yt:yG, yf:1, ex:16, ey:99},
 {pts:gra3, fit:gra3Fit, xd:[-3.07,0], xt:tI, xf:0, yd:[0,3], yt:yH, yf:0, ex:57, ey:32},
 {pts:cro1, fit:cro1Fit, xd:[-1.5,0], xt:tC, xf:1, yd:[0,3], yt:yH, yf:0, ex:30, ey:95},
 {pts:cro2, fit:cro2Fit, xd:[-2.04,0.3], xt:tD, xf:1, yd:[0.5,3], yt:yI, yf:0, ex:33, ey:31},
 {pts:cro3, fit:cro3Fit, xd:[-3.07,0], xt:tI, xf:0, yd:[0,3], yt:yH, yf:0, ex:89, ey:14}
];

const FONT = "'Liberation Serif','Times New Roman',serif";
const RED = "#ec4a4e";

function italicize(svg) {
  svg.querySelectorAll("text").forEach(t => {
    if (t.querySelector("tspan")) return;
    const s = t.textContent;
    if (!/^y=|p=/.test(s)) return;
    const re = /(y|p)(?==)/g;
    let last = 0, m;
    t.textContent = "";
    const NS = "http://www.w3.org/2000/svg";
    while ((m = re.exec(s))) {
      if (m.index > last) t.appendChild(document.createTextNode(s.slice(last, m.index)));
      const ts = document.createElementNS(NS, "tspan");
      ts.setAttribute("font-style", "italic");
      ts.textContent = m[0];
      t.appendChild(ts);
      last = m.index + 1;
    }
    if (last < s.length) t.appendChild(document.createTextNode(s.slice(last)));
  });
}

const grid = document.getElementById("grid");
panels.forEach((p, i) => {
  const row = Math.floor(i / 3), col = i % 3;
  const pts = p.pts.map(([x, y]) => ({x, y}));
  const fit = p.fit.map(([x, y]) => ({x, y}));
  const [l1, l2] = equations[i].map(s => s.replace(/ /g, "\u00a0"));
  const svg = Plot.plot({
    width: col === 2 ? 184 : 183,
    height: 149,
    marginLeft: 25, marginRight: 8, marginTop: 7, marginBottom: 21,
    style: {fontFamily: FONT, fontSize: "6.5px", color: "#333", background: "#fff", overflow: "visible"},
    x: {domain: p.xd, ticks: p.xt, tickFormat: d => d.toFixed(p.xf), tickSize: 0, tickPadding: 4, label: null},
    y: {domain: p.yd, ticks: p.yt, tickFormat: d => d.toFixed(p.yf), tickSize: 0, tickPadding: 3.5, label: null},
    marks: [
      Plot.frame({stroke: "#777", strokeWidth: 0.9}),
      Plot.dot(pts, {x: "x", y: "y", r: 2, fill: "#1f67af", stroke: "none"}),
      Plot.line(fit, {x: "x", y: "y", stroke: "#f26868", strokeWidth: 1.1, strokeDasharray: "3,2", curve: "catmull-rom"}),
      Plot.text([classes[row]], {frameAnchor: "top-left", dx: 3, dy: 6, textAnchor: "start", fontSize: 7, fill: "#222"}),
      Plot.text([l1], {frameAnchor: "top-left", dx: p.ex, dy: p.ey - 2, textAnchor: "start", fontSize: 6.5, fill: RED}),
      Plot.text([l2], {frameAnchor: "top-left", dx: p.ex, dy: p.ey + 6.8, textAnchor: "start", fontSize: 6.5, fill: RED}),
      Plot.text([yTitle], {frameAnchor: "left", dx: -17, rotate: -90, fontSize: 6, fill: "#222"}),
      Plot.text([indices[col]], {frameAnchor: "bottom", dy: 15, fontSize: 7, fill: "#222"})
    ]
  });
  italicize(svg);
  grid.appendChild(svg);
});
</script></body></html>
